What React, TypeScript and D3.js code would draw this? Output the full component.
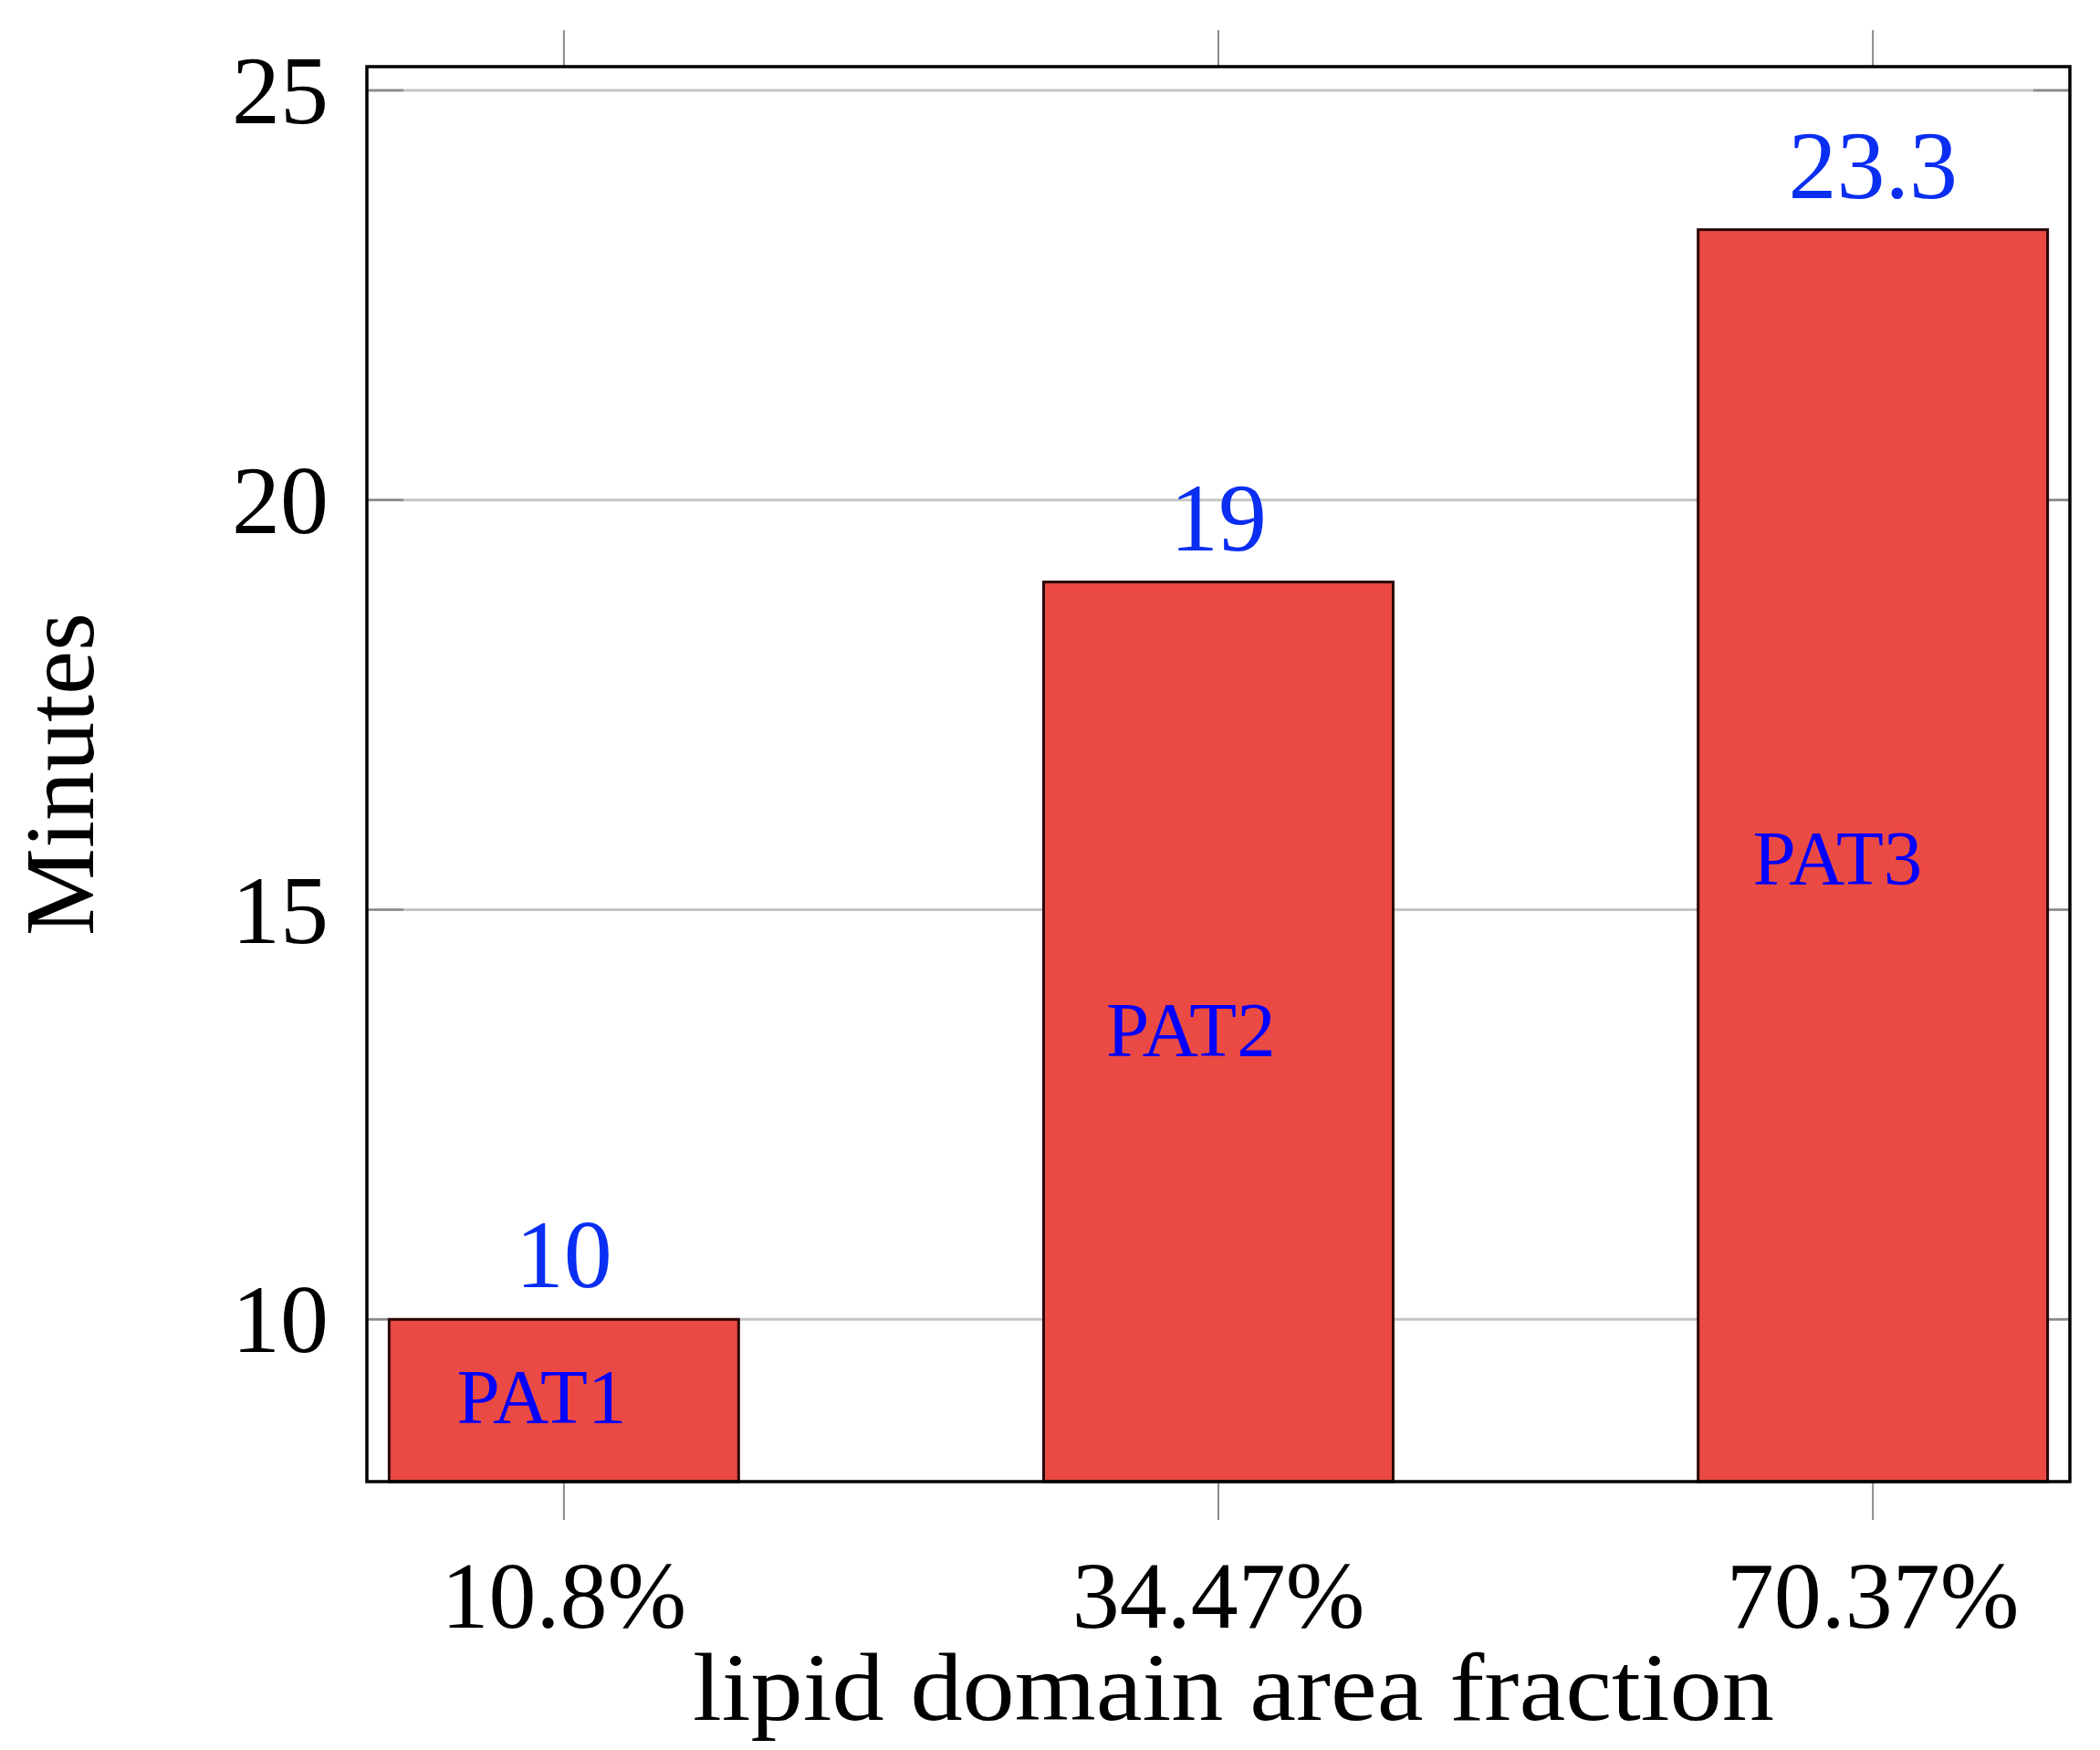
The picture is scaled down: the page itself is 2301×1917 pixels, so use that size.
import React from 'react'
import * as d3 from 'd3'

// chart data
const categories = ['10.8%', '34.47%', '70.37%']
const minutes = [10, 19, 23.3]
const patNames = ['PAT1', 'PAT2', 'PAT3']
// where the PAT labels sit (y in minutes, x shift in fraction of a band step)
const patLabelY = [9.06, 13.54, 15.64]
const patLabelShift = [-0.034, -0.042, -0.054]
const yTicks = [10, 15, 20, 25]

const W = 2301, H = 1917
const left = 402, right = 2268, top = 73, bottom = 1623
const serif = '"Liberation Serif", "Times New Roman", serif'

const App = () => {
    const x = d3.scaleBand<string>()
        .domain(categories)
        .range([left, right])
        .paddingInner(0.466)
        .paddingOuter(0.034)

    const y = d3.scaleLinear()
        .domain([8.02, 25.29])
        .range([bottom, top])

    const step = x.step()
    const cx = (c: string) => (x(c) as number) + x.bandwidth() / 2

    return (
        <svg width={W} height={H} style={{ position: 'absolute', left: 0, top: 0, background: '#fff' }}
            fontFamily={serif}>
            {/* grid lines */}
            {yTicks.map(t => (
                <line key={'g' + t} x1={left} x2={right} y1={y(t)} y2={y(t)} stroke="#c4c4c4" strokeWidth={3} />
            ))}
            {/* y ticks, inside on both sides */}
            {yTicks.map(t => (
                <g key={'yt' + t} stroke="#8a8a8a" strokeWidth={2.5}>
                    <line x1={left} x2={left + 40} y1={y(t)} y2={y(t)} />
                    <line x1={right - 40} x2={right} y1={y(t)} y2={y(t)} />
                </g>
            ))}
            {/* x ticks, outside top and bottom */}
            {categories.map(c => (
                <g key={'xt' + c} stroke="#8a8a8a" strokeWidth={2}>
                    <line x1={cx(c)} x2={cx(c)} y1={top - 40} y2={top} />
                    <line x1={cx(c)} x2={cx(c)} y1={bottom} y2={bottom + 42} />
                </g>
            ))}
            {/* bars */}
            {categories.map((c, i) => (
                <rect key={'b' + c}
                    x={x(c)} width={x.bandwidth()}
                    y={y(minutes[i])} height={bottom - y(minutes[i])}
                    fill="#ea4a43" stroke="#2a0505" strokeWidth={3} />
            ))}
            {/* frame */}
            <rect x={left} y={top} width={right - left} height={bottom - top}
                fill="none" stroke="#000" strokeWidth={3.5} />
            {/* value labels */}
            {categories.map((c, i) => (
                <text key={'v' + c} x={cx(c)} y={y(minutes[i]) - 35}
                    textAnchor="middle" fontSize={106} fill="#0a2ef2">
                    {minutes[i]}
                </text>
            ))}
            {/* PAT labels */}
            {categories.map((c, i) => (
                <text key={'p' + c} x={cx(c) + patLabelShift[i] * step} y={y(patLabelY[i])}
                    dy="0.35em" textAnchor="middle" fontSize={85} fill="#0000ff">
                    {patNames[i]}
                </text>
            ))}
            {/* y tick labels */}
            {yTicks.map(t => (
                <text key={'yl' + t} x={360} y={y(t)} dy="0.34em" textAnchor="end" fontSize={106} fill="#000">
                    {t}
                </text>
            ))}
            {/* x tick labels */}
            {categories.map(c => (
                <text key={'xl' + c} x={cx(c)} y={1783} textAnchor="middle" fontSize={104} fill="#000">
                    {c}
                </text>
            ))}
            {/* axis titles */}
            <text x={759} y={1884} fontSize={106} fill="#000" textLength={1185} lengthAdjust="spacingAndGlyphs">
                lipid domain area fraction
            </text>
            <text transform={`translate(102,${(top + bottom) / 2}) rotate(-90)`} textAnchor="middle"
                fontSize={108} fill="#000">
                Minutes
            </text>
        </svg>
    )
}

export default App
